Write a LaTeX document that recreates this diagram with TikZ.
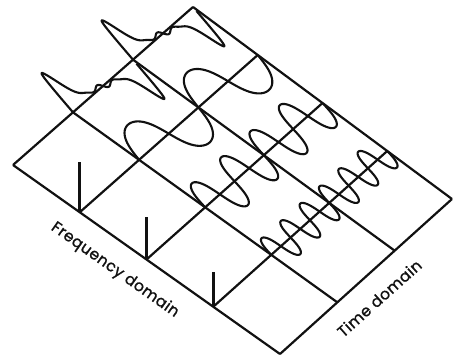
\documentclass[tikz,border=0pt]{standalone}
\usepackage{fontspec}
\newfontfamily\labelfont{Poppins}[FakeBold=1.2, LetterSpace=3]
\usetikzlibrary{calc}
\definecolor{ink}{HTML}{111111}
\tikzset{
  gridline/.style={draw=ink, line width=2.2pt},
  wavecurve/.style={draw=ink, line width=2.1pt, line join=round},
  spikeline/.style={draw=ink, line width=3.2pt},
  domainlabel/.style={font=\labelfont\fontsize{15.5}{19}\selectfont, text=ink, inner sep=0pt},
  declare function={
    saw(\p)=(42*exp(-(\p/0.14)*(\p/0.14)) - 42*exp(-((1-\p)/0.14)*((1-\p)/0.14))
            - 24*(\p-0.5) + 3.5*sin(1800*\p)*exp(-((\p-0.5)/0.18)*((\p-0.5)/0.18)))
            *(1-exp(-\p/0.008))*(1-exp(-(1-\p)/0.008));
  }
}

\begin{document}
\begin{tikzpicture}[x=1pt, y=-1pt]
  \useasboundingbox (0,0) rectangle (455,358);

  % corners of the ground grid
  \coordinate (lc) at (13,165);
  \coordinate (tc) at (193,7);
  \coordinate (rc) at (452,199);
  \coordinate (bc) at (280,354);

  % frequency steps and time steps along the edges
  \foreach \i in {0,...,4} {
    \coordinate (f\i) at ($(lc)!\i/4!(bc)$);
    \coordinate (g\i) at ($(tc)!\i/4!(rc)$);
  }
  \foreach \j in {0,...,3} {
    \coordinate (a\j) at ($(lc)!\j/3!(tc)$);
    \coordinate (b\j) at ($(bc)!\j/3!(rc)$);
  }
  \foreach \i in {0,...,4}
    \draw[gridline] (f\i) -- (g\i);
  \foreach \j in {0,...,3}
    \draw[gridline] (a\j) -- (b\j);

  % waves start on the second time line
  \foreach \i in {0,...,3}
    \coordinate (s\i) at ($(f\i)!1/3!(g\i)$);

  % composite signal
  \begin{scope}[x={($(tc)-(s0)$)}, y={(-0.66pt,0.75pt)}, shift={(s0)}]
    \foreach \k in {0,1}
      \draw[wavecurve] plot[domain=0:1, samples=300] ({(\k+\x)/2}, {saw(\x)});
  \end{scope}

  % harmonics
  \foreach \i/\amp/\cyc in {1/34/2, 2/27/4, 3/19/6} {
    \begin{scope}[x={($(g\i)-(s\i)$)}, y={(-0.76pt*\amp,0.65pt*\amp)}, shift={(s\i)}]
      \draw[wavecurve] plot[domain=0:1, samples=300]
        ({\x - 0.5/(12.566*\cyc)*sin(720*\cyc*\x)}, {sin(360*\cyc*\x)});
    \end{scope}
  }

  % spectral lines
  \foreach \i/\h in {1/50, 2/42.5, 3/35} {
    \coordinate (p\i) at ($(f\i)+(0,-\h)$);
    \draw[spikeline] (f\i) -- (p\i);
  }

  % axis labels
  \coordinate (fmid) at ($(lc)!0.44!(bc)$);
  \coordinate (tmid) at ($(bc)!0.48!(rc)$);
  \node[domainlabel, rotate=-35.3] (freqlabel) at ($(fmid)!27pt!-90:(bc)$) {Frequency domain};
  \node[domainlabel, rotate=41.8] (timelabel) at ($(tmid)!25pt!-90:(rc)$) {Time domain};
\end{tikzpicture}
\end{document}
